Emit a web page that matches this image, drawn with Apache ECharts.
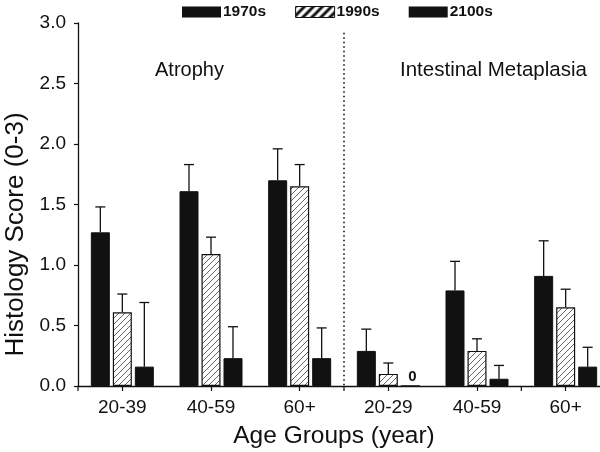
<!DOCTYPE html>
<html><head><meta charset="utf-8">
<script src="https://cdn.jsdelivr.net/npm/echarts@6/dist/echarts.min.js"></script>
<style>html,body{margin:0;padding:0;background:#fff}#c{width:600px;height:452px}</style>
</head><body><div id="c"></div>
<script>
// ---- data ----
const categories = ['20-39', '40-59', '60+', '20-29', '40-59', '60+'];
const seriesNames = ['1970s', '1990s', '2100s'];
const v1970 = [1.27, 1.61, 1.70, 0.29, 0.79, 0.91];
const e1970 = [0.21, 0.22, 0.26, 0.18, 0.24, 0.29];
const v1990 = [0.61, 1.09, 1.65, 0.10, 0.29, 0.65];
const e1990 = [0.15, 0.14, 0.18, 0.09, 0.10, 0.15];
const v2100 = [0.16, 0.23, 0.23, 0, 0.06, 0.16];
const e2100 = [0.53, 0.26, 0.25, 0, 0.11, 0.16];
const yTicks = [0, 0.5, 1.0, 1.5, 2.0, 2.5, 3.0];
const groupLabels = ['Atrophy', 'Intestinal Metaplasia'];
// category index whose left boundary carries an extra tick; the first one also carries the dotted divider
const boundaryTicks = [3, 5, 0];
const dividerTop = 2.92;

// ---- style ----
const FONT = "'Liberation Sans', Arial, sans-serif";
const INK = '#111';
const BAR_W = 19, BAR_GAP = 3;

function makeHatch(size, lw, col) {
  const c = document.createElement('canvas');
  c.width = size; c.height = size;
  const g = c.getContext('2d');
  g.fillStyle = '#fff'; g.fillRect(0, 0, size, size);
  g.strokeStyle = col; g.lineWidth = lw;
  g.beginPath();
  g.moveTo(0, size); g.lineTo(size, 0);
  g.moveTo(-size / 2, size / 2); g.lineTo(size / 2, -size / 2);
  g.moveTo(size / 2, size * 1.5); g.lineTo(size * 1.5, size / 2);
  g.stroke();
  return c;
}
const hatchBar = { image: makeHatch(6, 1, '#666'), repeat: 'repeat' };
const hatchLegend = { image: makeHatch(9, 3, '#111'), repeat: 'repeat' };

const values = [v1970, v1990, v2100];
const errs = [e1970, e1990, e2100];

const chart = echarts.init(document.getElementById('c'), null, { renderer: 'canvas' });

const barSeries = seriesNames.map((n, k) => ({
  name: n, type: 'bar', xAxisIndex: 0, yAxisIndex: 0,
  data: values[k],
  barWidth: BAR_W, barGap: (BAR_GAP / BAR_W * 100) + '%',
  itemStyle: k === 1
    ? { color: hatchBar, borderColor: INK, borderWidth: 1.2 }
    : { color: INK, borderColor: INK, borderWidth: 1 },
  label: {
    show: k === 2, position: 'top', distance: 1, offset: [2, 0],
    formatter: p => (p.value === 0 ? '0' : ''),
    fontFamily: FONT, fontWeight: 'bold', fontSize: 15, color: INK
  },
  z: 3
}));

const errSeries = seriesNames.map((n, k) => ({
  name: 'err' + n, type: 'custom', xAxisIndex: 0, yAxisIndex: 0,
  data: values[k].map((v, i) => [i, v, v + errs[k][i]]),
  renderItem: (params, api) => {
    const i = api.value(0), lo = api.value(1), hi = api.value(2);
    if (!(hi > lo)) return null;
    const p0 = api.coord([i, lo]), p1 = api.coord([i, hi]);
    const x = p0[0] + (k - 1) * (BAR_W + BAR_GAP);
    const st = { stroke: INK, lineWidth: 1.3 };
    return {
      type: 'group', children: [
        { type: 'line', shape: { x1: x, y1: p0[1], x2: x, y2: p1[1] }, style: st },
        { type: 'line', shape: { x1: x - 5, y1: p1[1], x2: x + 5, y2: p1[1] }, style: st }
      ]
    };
  },
  z: 2
}));

const dividerSeries = {
  name: 'divider', type: 'custom', xAxisIndex: 0, yAxisIndex: 0, clip: false,
  data: boundaryTicks.map((b, j) => [b, j === 0 ? dividerTop : 0]),
  renderItem: (params, api) => {
    const i = api.value(0), top = api.value(1);
    const p0 = api.coord([i, 0]);
    const half = api.size([1, 0])[0] / 2;
    const x = p0[0] - half;
    const children = [
      { type: 'line', shape: { x1: x, y1: p0[1], x2: x, y2: p0[1] + 5 }, style: { stroke: INK, lineWidth: 1.2 } }
    ];
    if (top > 0) {
      const pt = api.coord([i, top]);
      children.push({ type: 'line', shape: { x1: x, y1: pt[1], x2: x, y2: p0[1] },
        style: { stroke: INK, lineWidth: 1.6, lineDash: [1.5, 3] } });
    }
    return { type: 'group', children };
  },
  z: 1
};

chart.setOption({
  animation: false,
  backgroundColor: '#fff',
  textStyle: { fontFamily: FONT, color: INK },
  grid: { left: 78, right: -10, top: 23, bottom: 66, containLabel: false, outerBoundsMode: 'none' },
  legend: {
    left: 182, top: 4, padding: 0, itemWidth: 39, itemHeight: 11, itemGap: 29,
    icon: 'rect', selectedMode: false,
    textStyle: { fontFamily: FONT, fontWeight: 'bold', fontSize: 15.5, color: INK, padding: [0, 0, 0, -3] },
    data: [
      { name: seriesNames[0], itemStyle: { color: INK, borderWidth: 0 } },
      { name: seriesNames[1], itemStyle: { color: hatchLegend, borderColor: INK, borderWidth: 1 } },
      { name: seriesNames[2], itemStyle: { color: INK, borderWidth: 0 } }
    ]
  },
  xAxis: {
    type: 'category', data: categories, position: 'bottom',
    name: 'Age Groups (year)', nameLocation: 'middle', nameGap: 38,
    nameTextStyle: { fontFamily: FONT, fontSize: 24.5, color: INK, padding: [0, 20, 0, 0] },
    axisLine: { show: true, lineStyle: { color: INK, width: 1.3 } },
    axisTick: { show: true, alignWithLabel: true, length: 5, lineStyle: { color: INK, width: 1.2 } },
    axisLabel: { fontFamily: FONT, fontSize: 19, color: INK, margin: 12, interval: 0 },
    splitLine: { show: false }
  },
  yAxis: {
    type: 'value', min: yTicks[0], max: yTicks[yTicks.length - 1], interval: 0.5,
    name: 'Histology Score (0-3)', nameLocation: 'middle', nameGap: 49, nameMoveOverlap: false,
    nameTextStyle: { fontFamily: FONT, fontSize: 26, color: INK, padding: [0, 60, 0, 0] },
    axisLine: { show: true, lineStyle: { color: INK, width: 1.3 } },
    axisTick: { show: true, length: 4, lineStyle: { color: INK, width: 1.2 } },
    axisLabel: { fontFamily: FONT, fontSize: 19, color: INK, margin: 12, formatter: v => v.toFixed(1) },
    splitLine: { show: false }
  },
  graphic: [
    { type: 'text', left: 155, top: 60, style: { text: groupLabels[0], font: '20px ' + FONT, fill: INK } },
    { type: 'text', left: 400, top: 60, style: { text: groupLabels[1], font: '20.5px ' + FONT, fill: INK } }
  ],
  series: [dividerSeries, ...errSeries, ...barSeries]
});
</script>
</body></html>
